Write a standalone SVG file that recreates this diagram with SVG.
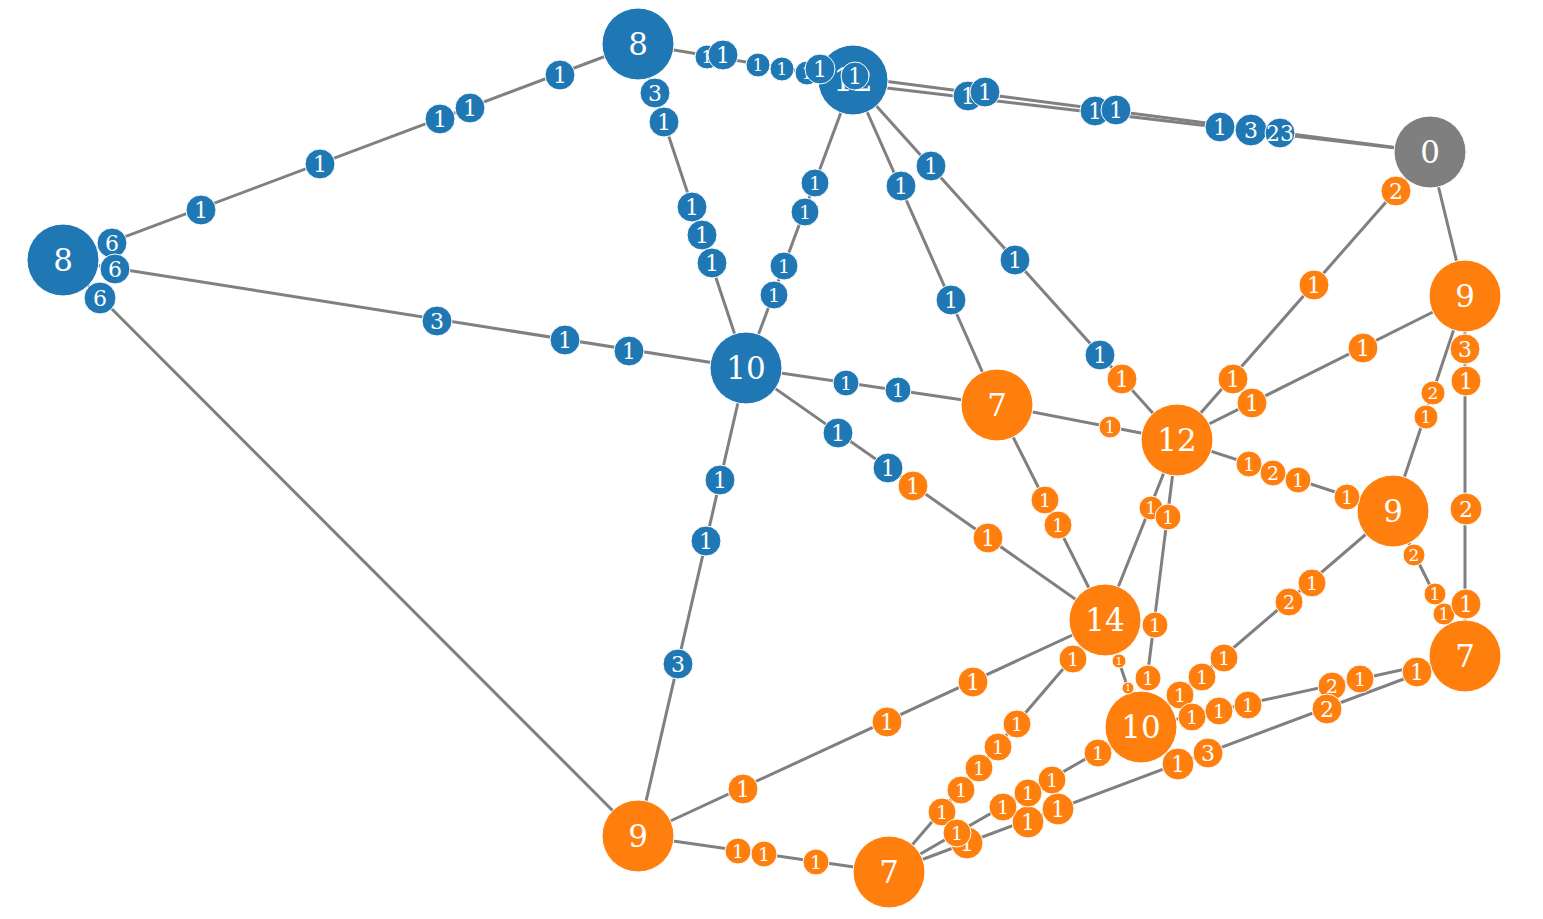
<svg xmlns="http://www.w3.org/2000/svg" width="1543" height="919" viewBox="0 0 1543 919">
<style>
.e{stroke:#808080;stroke-width:3;fill:none}
circle{stroke:#fff;stroke-width:1}
.b{fill:#1f77b4}.o{fill:#ff7f0e}.g{fill:#7f7f7f}
text{fill:#fff;font-family:"DejaVu Serif","Liberation Serif",serif;text-anchor:middle;dominant-baseline:central}
.n{font-size:31px}.m{font-size:22px}.s{font-size:19px}.x{font-size:17px}.t{font-size:11px}.u{font-size:9px}
</style>
<rect width="1543" height="919" fill="#fff"/>
<g id="connectors">
<line class="e" x1="638" y1="44" x2="63" y2="260"/>
<line class="e" x1="638" y1="44" x2="853" y2="80"/>
<line class="e" x1="853" y1="77" x2="1430" y2="152"/>
<line class="e" x1="853" y1="84" x2="1430" y2="152"/>
<line class="e" x1="638" y1="44" x2="746" y2="368"/>
<line class="e" x1="853" y1="80" x2="746" y2="368"/>
<line class="e" x1="853" y1="80" x2="997" y2="405"/>
<line class="e" x1="853" y1="80" x2="1177" y2="440"/>
<line class="e" x1="63" y1="260" x2="746" y2="368"/>
<line class="e" x1="63" y1="260" x2="638" y2="836"/>
<line class="e" x1="746" y1="368" x2="997" y2="405"/>
<line class="e" x1="746" y1="368" x2="1105" y2="620"/>
<line class="e" x1="746" y1="368" x2="638" y2="836"/>
<line class="e" x1="1430" y1="152" x2="1177" y2="440"/>
<line class="e" x1="1430" y1="152" x2="1465" y2="296"/>
<line class="e" x1="997" y1="405" x2="1177" y2="440"/>
<line class="e" x1="997" y1="405" x2="1105" y2="620"/>
<line class="e" x1="1177" y1="440" x2="1465" y2="296"/>
<line class="e" x1="1177" y1="440" x2="1393" y2="511"/>
<line class="e" x1="1177" y1="440" x2="1105" y2="620"/>
<line class="e" x1="1177" y1="440" x2="1141" y2="727"/>
<line class="e" x1="1465" y1="296" x2="1393" y2="511"/>
<line class="e" x1="1465" y1="296" x2="1465" y2="656"/>
<line class="e" x1="1393" y1="511" x2="1465" y2="656"/>
<line class="e" x1="1393" y1="511" x2="1141" y2="727"/>
<line class="e" x1="1465" y1="656" x2="1141" y2="727"/>
<line class="e" x1="1465" y1="656" x2="889" y2="872"/>
<line class="e" x1="1105" y1="620" x2="1141" y2="727"/>
<line class="e" x1="1105" y1="620" x2="638" y2="836"/>
<line class="e" x1="1105" y1="620" x2="889" y2="872"/>
<line class="e" x1="1141" y1="727" x2="889" y2="872"/>
<line class="e" x1="638" y1="836" x2="889" y2="872"/>
</g>
<g id="node-A"><circle class="b" cx="638" cy="44" r="36"/><text class="n" x="638" y="44">8</text></g>
<g id="node-B"><circle class="b" cx="63" cy="260" r="36"/><text class="n" x="63" y="260">8</text></g>
<g id="node-C"><circle class="b" cx="853" cy="80" r="35"/><text class="n" x="853" y="80">12</text></g>
<g id="node-D"><circle class="g" cx="1430" cy="152" r="36"/><text class="n" x="1430" y="152">0</text></g>
<g id="node-E"><circle class="b" cx="746" cy="368" r="36"/><text class="n" x="746" y="368">10</text></g>
<g id="node-F"><circle class="o" cx="997" cy="405" r="36"/><text class="n" x="997" y="405">7</text></g>
<g id="node-G"><circle class="o" cx="1177" cy="440" r="36"/><text class="n" x="1177" y="440">12</text></g>
<g id="node-H"><circle class="o" cx="1465" cy="296" r="36"/><text class="n" x="1465" y="296">9</text></g>
<g id="node-I"><circle class="o" cx="1393" cy="511" r="36"/><text class="n" x="1393" y="511">9</text></g>
<g id="node-J"><circle class="o" cx="1465" cy="656" r="36"/><text class="n" x="1465" y="656">7</text></g>
<g id="node-K"><circle class="o" cx="1105" cy="620" r="36"/><text class="n" x="1105" y="620">14</text></g>
<g id="node-L"><circle class="o" cx="1141" cy="727" r="36"/><text class="n" x="1141" y="727">10</text></g>
<g id="node-M"><circle class="o" cx="638" cy="836" r="36"/><text class="n" x="638" y="836">9</text></g>
<g id="node-N"><circle class="o" cx="889" cy="872" r="36"/><text class="n" x="889" y="872">7</text></g>
<g id="edge-labels">
<circle class="b" cx="560" cy="75" r="15"/><text class="m" x="560" y="75">1</text>
<circle class="b" cx="470" cy="108" r="15"/><text class="m" x="470" y="108">1</text>
<circle class="b" cx="440" cy="119" r="15"/><text class="m" x="440" y="119">1</text>
<circle class="b" cx="320" cy="164" r="15"/><text class="m" x="320" y="164">1</text>
<circle class="b" cx="201" cy="210" r="15"/><text class="m" x="201" y="210">1</text>
<circle class="b" cx="112" cy="243" r="15"/><text class="m" x="112" y="243">6</text>
<circle class="b" cx="707" cy="57" r="12"/><text class="x" x="707" y="57">1</text>
<circle class="b" cx="723" cy="55" r="15"/><text class="m" x="723" y="55">1</text>
<circle class="b" cx="758" cy="65" r="12"/><text class="x" x="758" y="65">1</text>
<circle class="b" cx="782" cy="69" r="12"/><text class="x" x="782" y="69">1</text>
<circle class="b" cx="807" cy="73" r="12"/><text class="x" x="807" y="73">1</text>
<circle class="b" cx="820" cy="69" r="15"/><text class="m" x="820" y="69">1</text>
<circle class="b" cx="855" cy="76" r="14"/><text class="m" x="855" y="76">1</text>
<circle class="b" cx="968" cy="96" r="15"/><text class="m" x="968" y="96">1</text>
<circle class="b" cx="985" cy="92" r="15"/><text class="m" x="985" y="92">1</text>
<circle class="b" cx="1095" cy="111" r="15"/><text class="m" x="1095" y="111">1</text>
<circle class="b" cx="1116" cy="110" r="15"/><text class="m" x="1116" y="110">1</text>
<circle class="b" cx="1220" cy="127" r="15"/><text class="m" x="1220" y="127">1</text>
<circle class="b" cx="1251" cy="130" r="16"/><text class="m" x="1251" y="130">3</text>
<circle class="b" cx="1280" cy="133" r="15"/><text class="m" x="1280" y="133">23</text>
<circle class="b" cx="655" cy="93" r="15"/><text class="m" x="655" y="93">3</text>
<circle class="b" cx="664" cy="122" r="15"/><text class="m" x="664" y="122">1</text>
<circle class="b" cx="692" cy="207" r="15"/><text class="m" x="692" y="207">1</text>
<circle class="b" cx="702" cy="235" r="15"/><text class="m" x="702" y="235">1</text>
<circle class="b" cx="712" cy="263" r="15"/><text class="m" x="712" y="263">1</text>
<circle class="b" cx="815" cy="183" r="14"/><text class="s" x="815" y="183">1</text>
<circle class="b" cx="805" cy="212" r="14"/><text class="s" x="805" y="212">1</text>
<circle class="b" cx="784" cy="266" r="14"/><text class="s" x="784" y="266">1</text>
<circle class="b" cx="774" cy="295" r="14"/><text class="s" x="774" y="295">1</text>
<circle class="b" cx="901" cy="186" r="15"/><text class="m" x="901" y="186">1</text>
<circle class="b" cx="951" cy="300" r="15"/><text class="m" x="951" y="300">1</text>
<circle class="b" cx="931" cy="166" r="15"/><text class="m" x="931" y="166">1</text>
<circle class="b" cx="1015" cy="260" r="15"/><text class="m" x="1015" y="260">1</text>
<circle class="b" cx="1100" cy="355" r="15"/><text class="m" x="1100" y="355">1</text>
<circle class="o" cx="1122" cy="379" r="15"/><text class="m" x="1122" y="379">1</text>
<circle class="b" cx="115" cy="269" r="15"/><text class="m" x="115" y="269">6</text>
<circle class="b" cx="437" cy="321" r="15"/><text class="m" x="437" y="321">3</text>
<circle class="b" cx="565" cy="340" r="15"/><text class="m" x="565" y="340">1</text>
<circle class="b" cx="629" cy="351" r="15"/><text class="m" x="629" y="351">1</text>
<circle class="b" cx="100" cy="298" r="16"/><text class="m" x="100" y="298">6</text>
<circle class="b" cx="846" cy="383" r="13"/><text class="s" x="846" y="383">1</text>
<circle class="b" cx="898" cy="390" r="13"/><text class="s" x="898" y="390">1</text>
<circle class="b" cx="838" cy="433" r="15"/><text class="m" x="838" y="433">1</text>
<circle class="b" cx="888" cy="468" r="15"/><text class="m" x="888" y="468">1</text>
<circle class="o" cx="913" cy="486" r="15"/><text class="m" x="913" y="486">1</text>
<circle class="o" cx="988" cy="538" r="15"/><text class="m" x="988" y="538">1</text>
<circle class="b" cx="720" cy="480" r="15"/><text class="m" x="720" y="480">1</text>
<circle class="b" cx="706" cy="541" r="15"/><text class="m" x="706" y="541">1</text>
<circle class="b" cx="678" cy="664" r="15"/><text class="m" x="678" y="664">3</text>
<circle class="o" cx="1396" cy="191" r="15"/><text class="m" x="1396" y="191">2</text>
<circle class="o" cx="1314" cy="285" r="15"/><text class="m" x="1314" y="285">1</text>
<circle class="o" cx="1233" cy="379" r="15"/><text class="m" x="1233" y="379">1</text>
<circle class="o" cx="1110" cy="427" r="11"/><text class="x" x="1110" y="427">1</text>
<circle class="o" cx="1045" cy="500" r="14"/><text class="s" x="1045" y="500">1</text>
<circle class="o" cx="1058" cy="525" r="14"/><text class="s" x="1058" y="525">1</text>
<circle class="o" cx="1252" cy="403" r="15"/><text class="m" x="1252" y="403">1</text>
<circle class="o" cx="1363" cy="348" r="15"/><text class="m" x="1363" y="348">1</text>
<circle class="o" cx="1249" cy="464" r="13"/><text class="s" x="1249" y="464">1</text>
<circle class="o" cx="1273" cy="473" r="13"/><text class="s" x="1273" y="473">2</text>
<circle class="o" cx="1298" cy="480" r="13"/><text class="s" x="1298" y="480">1</text>
<circle class="o" cx="1347" cy="497" r="13"/><text class="s" x="1347" y="497">1</text>
<circle class="o" cx="1151" cy="508" r="12"/><text class="x" x="1151" y="508">1</text>
<circle class="o" cx="1168" cy="517" r="13"/><text class="s" x="1168" y="517">1</text>
<circle class="o" cx="1155" cy="625" r="13"/><text class="s" x="1155" y="625">1</text>
<circle class="o" cx="1148" cy="678" r="13"/><text class="s" x="1148" y="678">1</text>
<circle class="o" cx="1433" cy="393" r="12"/><text class="x" x="1433" y="393">2</text>
<circle class="o" cx="1426" cy="417" r="12"/><text class="x" x="1426" y="417">1</text>
<circle class="o" cx="1465" cy="349" r="15"/><text class="m" x="1465" y="349">3</text>
<circle class="o" cx="1466" cy="381" r="15"/><text class="m" x="1466" y="381">1</text>
<circle class="o" cx="1466" cy="509" r="16"/><text class="m" x="1466" y="509">2</text>
<circle class="o" cx="1414" cy="555" r="11"/><text class="x" x="1414" y="555">2</text>
<circle class="o" cx="1435" cy="594" r="11"/><text class="x" x="1435" y="594">1</text>
<circle class="o" cx="1444" cy="614" r="11"/><text class="x" x="1444" y="614">1</text>
<circle class="o" cx="1466" cy="604" r="15"/><text class="m" x="1466" y="604">1</text>
<circle class="o" cx="1312" cy="583" r="14"/><text class="s" x="1312" y="583">1</text>
<circle class="o" cx="1289" cy="602" r="14"/><text class="s" x="1289" y="602">2</text>
<circle class="o" cx="1224" cy="658" r="14"/><text class="s" x="1224" y="658">1</text>
<circle class="o" cx="1202" cy="677" r="14"/><text class="s" x="1202" y="677">1</text>
<circle class="o" cx="1180" cy="695" r="14"/><text class="s" x="1180" y="695">1</text>
<circle class="o" cx="1360" cy="679" r="14"/><text class="s" x="1360" y="679">1</text>
<circle class="o" cx="1332" cy="686" r="14"/><text class="s" x="1332" y="686">2</text>
<circle class="o" cx="1248" cy="705" r="14"/><text class="s" x="1248" y="705">1</text>
<circle class="o" cx="1219" cy="711" r="14"/><text class="s" x="1219" y="711">1</text>
<circle class="o" cx="1192" cy="717" r="14"/><text class="s" x="1192" y="717">1</text>
<circle class="o" cx="1327" cy="709" r="15"/><text class="m" x="1327" y="709">2</text>
<circle class="o" cx="1417" cy="672" r="15"/><text class="m" x="1417" y="672">1</text>
<circle class="o" cx="1208" cy="753" r="15"/><text class="m" x="1208" y="753">3</text>
<circle class="o" cx="1178" cy="764" r="16"/><text class="m" x="1178" y="764">1</text>
<circle class="o" cx="1058" cy="809" r="16"/><text class="m" x="1058" y="809">1</text>
<circle class="o" cx="1028" cy="822" r="16"/><text class="m" x="1028" y="822">1</text>
<circle class="o" cx="967" cy="843" r="16"/><text class="m" x="967" y="843">1</text>
<circle class="o" cx="1119" cy="661" r="7"/><text class="t" x="1119" y="661">1</text>
<circle class="o" cx="1128" cy="688" r="6"/><text class="u" x="1128" y="688">1</text>
<circle class="o" cx="973" cy="682" r="15"/><text class="m" x="973" y="682">1</text>
<circle class="o" cx="887" cy="722" r="15"/><text class="m" x="887" y="722">1</text>
<circle class="o" cx="743" cy="789" r="15"/><text class="m" x="743" y="789">1</text>
<circle class="o" cx="1073" cy="659" r="14"/><text class="s" x="1073" y="659">1</text>
<circle class="o" cx="1017" cy="724" r="14"/><text class="s" x="1017" y="724">1</text>
<circle class="o" cx="998" cy="747" r="14"/><text class="s" x="998" y="747">1</text>
<circle class="o" cx="979" cy="768" r="14"/><text class="s" x="979" y="768">1</text>
<circle class="o" cx="961" cy="790" r="14"/><text class="s" x="961" y="790">1</text>
<circle class="o" cx="942" cy="812" r="14"/><text class="s" x="942" y="812">1</text>
<circle class="o" cx="1098" cy="753" r="14"/><text class="s" x="1098" y="753">1</text>
<circle class="o" cx="1052" cy="780" r="14"/><text class="s" x="1052" y="780">1</text>
<circle class="o" cx="1028" cy="793" r="14"/><text class="s" x="1028" y="793">1</text>
<circle class="o" cx="1003" cy="807" r="14"/><text class="s" x="1003" y="807">1</text>
<circle class="o" cx="957" cy="833" r="14"/><text class="s" x="957" y="833">1</text>
<circle class="o" cx="738" cy="851" r="13"/><text class="s" x="738" y="851">1</text>
<circle class="o" cx="764" cy="854" r="13"/><text class="s" x="764" y="854">1</text>
<circle class="o" cx="816" cy="862" r="13"/><text class="s" x="816" y="862">1</text>
</g>
</svg>
